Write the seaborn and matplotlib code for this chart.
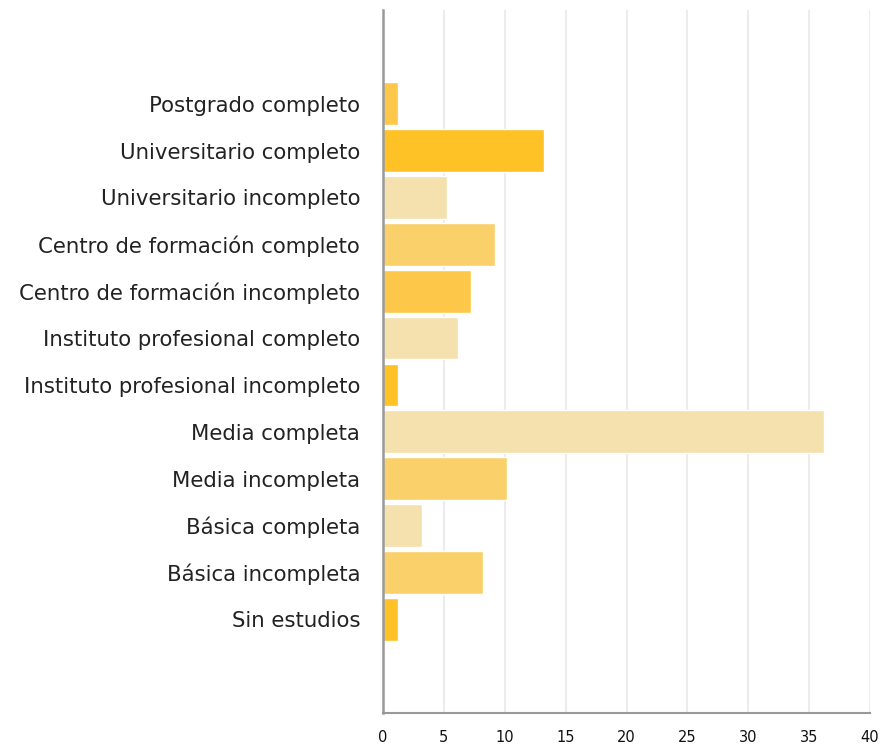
import matplotlib
matplotlib.use("Agg")
import matplotlib.pyplot as plt
import seaborn as sns
import pandas as pd

categories = [
    "Postgrado completo",
    "Universitario completo",
    "Universitario incompleto",
    "Centro de formación completo",
    "Centro de formación incompleto",
    "Instituto profesional completo",
    "Instituto profesional incompleto",
    "Media completa",
    "Media incompleta",
    "Básica completa",
    "Básica incompleta",
    "Sin estudios",
]
values = [1.25, 13.2, 5.25, 9.2, 7.2, 6.2, 1.25, 36.2, 10.2, 3.2, 8.2, 1.25]
colors = [
    "#FDC84A", "#FEC126", "#F5E1AE", "#FAD06A", "#FDC84A", "#F5E1AE",
    "#FEC126", "#F5E1AE", "#FAD06A", "#F5E1AE", "#FAD06A", "#FEC126",
]
x_ticks = [0, 5, 10, 15, 20, 25, 30, 35, 40]

sns.set_theme(style="white")
plt.rcParams["font.family"] = ["DejaVu Sans"]

df = pd.DataFrame({"cat": categories, "val": values})

fig = plt.figure(figsize=(8.91, 7.44), dpi=100)
ax = fig.add_axes([383 / 891, 1 - 713 / 744, (870 - 383) / 891, (713 - 10) / 744])

sns.barplot(data=df, y="cat", x="val", hue="cat", palette=colors,
            orient="h", width=0.91, legend=False, ax=ax, saturation=1)

ax.set_xlim(0, 40)
ax.set_ylim(len(categories) + 1, -2)
ax.set_xticks(x_ticks)
ax.set_xticklabels([str(t) for t in x_ticks], fontsize=10.5, color="#111111")
ax.tick_params(axis="x", length=0, pad=12)
ax.tick_params(axis="y", length=0, pad=16.5, labelsize=15.3, labelcolor="#222222")
ax.set_xlabel("")
ax.set_ylabel("")

ax.xaxis.grid(True, color="#ececec", linewidth=1.5)
ax.yaxis.grid(False)
ax.set_axisbelow(True)

for side in ["top", "right"]:
    ax.spines[side].set_visible(False)
ax.spines["left"].set_color("#999999")
ax.spines["left"].set_linewidth(1.8)
ax.spines["bottom"].set_color("#999999")
ax.spines["bottom"].set_linewidth(1.5)

fig.savefig("out.png", dpi=100)
